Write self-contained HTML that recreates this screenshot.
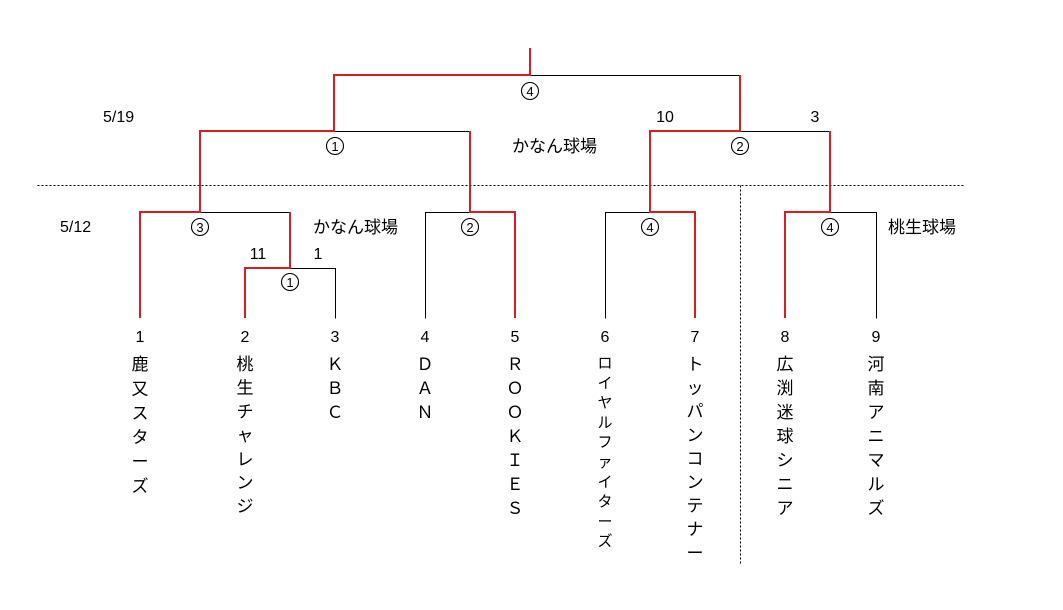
<!DOCTYPE html>
<html><head><meta charset="utf-8"><style>
html,body{margin:0;padding:0;background:#fff;}
svg{display:block;}
text{font-family:"Liberation Sans","Noto Sans CJK JP",sans-serif;font-size:16px;fill:#000;}
.cn{font-size:13px;text-anchor:middle;}
.v{font-size:17px;text-anchor:middle;}
</style></head><body>
<svg width="1063" height="610" viewBox="0 0 1063 610" xmlns="http://www.w3.org/2000/svg">
<g fill="none" shape-rendering="crispEdges" transform="translate(0.5,0.5)">
<line x1="37" y1="185" x2="965" y2="185" stroke="#000" stroke-width="1" stroke-dasharray="2,2"/>
<line x1="740" y1="185" x2="740" y2="565" stroke="#000" stroke-width="1" stroke-dasharray="2,2"/>
<g stroke="#000" stroke-width="1">
<line x1="530" y1="75" x2="740" y2="75"/>
<line x1="334" y1="131" x2="470" y2="131"/>
<line x1="740" y1="131" x2="830" y2="131"/>
<line x1="200" y1="212" x2="290" y2="212"/>
<polyline points="290,268 335,268 335,318"/>
<polyline points="425,318 425,212 470,212"/>
<polyline points="605,318 605,212 650,212"/>
<polyline points="830,212 876,212 876,318"/>
</g>
</g>
<g fill="none" shape-rendering="crispEdges">
<g stroke="#d81e1e" stroke-width="2">
<polyline points="530,48 530,75 334,75 334,131 200,131 200,212 140,212 140,318"/>
<polyline points="740,75 740,131 650,131 650,212 695,212 695,318"/>
<polyline points="470,131 470,212 515,212 515,318"/>
<polyline points="830,131 830,212 785,212 785,318"/>
<polyline points="290,212 290,268 245,268 245,318"/>
</g>
</g>
<g fill="none" stroke="#000" stroke-width="1.1">
<circle cx="530" cy="91" r="8.5"/>
<circle cx="335" cy="146" r="8.5"/>
<circle cx="740" cy="146" r="8.5"/>
<circle cx="200" cy="227" r="8.5"/>
<circle cx="290" cy="282" r="8.5"/>
<circle cx="470" cy="227" r="8.5"/>
<circle cx="650" cy="227" r="8.5"/>
<circle cx="830" cy="227" r="8.5"/>
</g>
<text class="cn" x="530" y="96">4</text>
<text class="cn" x="335" y="151">1</text>
<text class="cn" x="740" y="151">2</text>
<text class="cn" x="200" y="232">3</text>
<text class="cn" x="290" y="287">1</text>
<text class="cn" x="470" y="232">2</text>
<text class="cn" x="650" y="232">4</text>
<text class="cn" x="830" y="232">4</text>
<g text-anchor="middle">
<text x="665" y="122">10</text>
<text x="815" y="122">3</text>
<text x="258" y="259">11</text>
<text x="318" y="259">1</text>
</g>
<text x="103" y="122">5/19</text>
<text x="60" y="232">5/12</text>
<text x="512" y="152" style="font-size:17px">かなん球場</text>
<text x="313" y="233" style="font-size:17px">かなん球場</text>
<text x="888" y="233" style="font-size:17px">桃生球場</text>
<g text-anchor="middle">
<text x="140" y="342">1</text><text x="245" y="342">2</text><text x="335" y="342">3</text>
<text x="425" y="342">4</text><text x="515" y="342">5</text><text x="605" y="342">6</text>
<text x="695" y="342">7</text><text x="785" y="342">8</text><text x="876" y="342">9</text>
</g>
<text class="v" x="140" y="370"><tspan x="140">鹿</tspan><tspan x="140" dy="24.4">又</tspan><tspan x="140" dy="24.4">ス</tspan><tspan x="140" dy="24.4">タ</tspan><tspan x="140" dy="24.4">ー</tspan><tspan x="140" dy="24.4">ズ</tspan></text>
<text class="v" x="245" y="370"><tspan x="245">桃</tspan><tspan x="245" dy="23.7">生</tspan><tspan x="245" dy="23.7">チ</tspan><tspan x="245" dy="23.7">ャ</tspan><tspan x="245" dy="23.7">レ</tspan><tspan x="245" dy="23.7">ン</tspan><tspan x="245" dy="23.7">ジ</tspan></text>
<text class="v" x="335" y="370"><tspan x="335">Ｋ</tspan><tspan x="335" dy="24">Ｂ</tspan><tspan x="335" dy="24">Ｃ</tspan></text>
<text class="v" x="425" y="370"><tspan x="425">Ｄ</tspan><tspan x="425" dy="24">Ａ</tspan><tspan x="425" dy="24">Ｎ</tspan></text>
<text class="v" x="515" y="370"><tspan x="515">Ｒ</tspan><tspan x="515" dy="24">Ｏ</tspan><tspan x="515" dy="24">Ｏ</tspan><tspan x="515" dy="24">Ｋ</tspan><tspan x="515" dy="24">Ｉ</tspan><tspan x="515" dy="24">Ｅ</tspan><tspan x="515" dy="24">Ｓ</tspan></text>
<text class="v" x="605" y="368" style="font-size:15px"><tspan x="605">ロ</tspan><tspan x="605" dy="19.8">イ</tspan><tspan x="605" dy="19.8">ヤ</tspan><tspan x="605" dy="19.8">ル</tspan><tspan x="605" dy="19.8">フ</tspan><tspan x="605" dy="19.8">ァ</tspan><tspan x="605" dy="19.8">イ</tspan><tspan x="605" dy="19.8">タ</tspan><tspan x="605" dy="19.8">ー</tspan><tspan x="605" dy="19.8">ズ</tspan></text>
<text class="v" x="695" y="370"><tspan x="695">ト</tspan><tspan x="695" dy="23.6">ッ</tspan><tspan x="695" dy="23.6">パ</tspan><tspan x="695" dy="23.6">ン</tspan><tspan x="695" dy="23.6">コ</tspan><tspan x="695" dy="23.6">ン</tspan><tspan x="695" dy="23.6">テ</tspan><tspan x="695" dy="23.6">ナ</tspan><tspan x="695" dy="23.6">ー</tspan></text>
<text class="v" x="785" y="370"><tspan x="785">広</tspan><tspan x="785" dy="24">渕</tspan><tspan x="785" dy="24">迷</tspan><tspan x="785" dy="24">球</tspan><tspan x="785" dy="24">シ</tspan><tspan x="785" dy="24">ニ</tspan><tspan x="785" dy="24">ア</tspan></text>
<text class="v" x="876" y="370"><tspan x="876">河</tspan><tspan x="876" dy="24">南</tspan><tspan x="876" dy="24">ア</tspan><tspan x="876" dy="24">ニ</tspan><tspan x="876" dy="24">マ</tspan><tspan x="876" dy="24">ル</tspan><tspan x="876" dy="24">ズ</tspan></text>
</svg>
</body></html>
